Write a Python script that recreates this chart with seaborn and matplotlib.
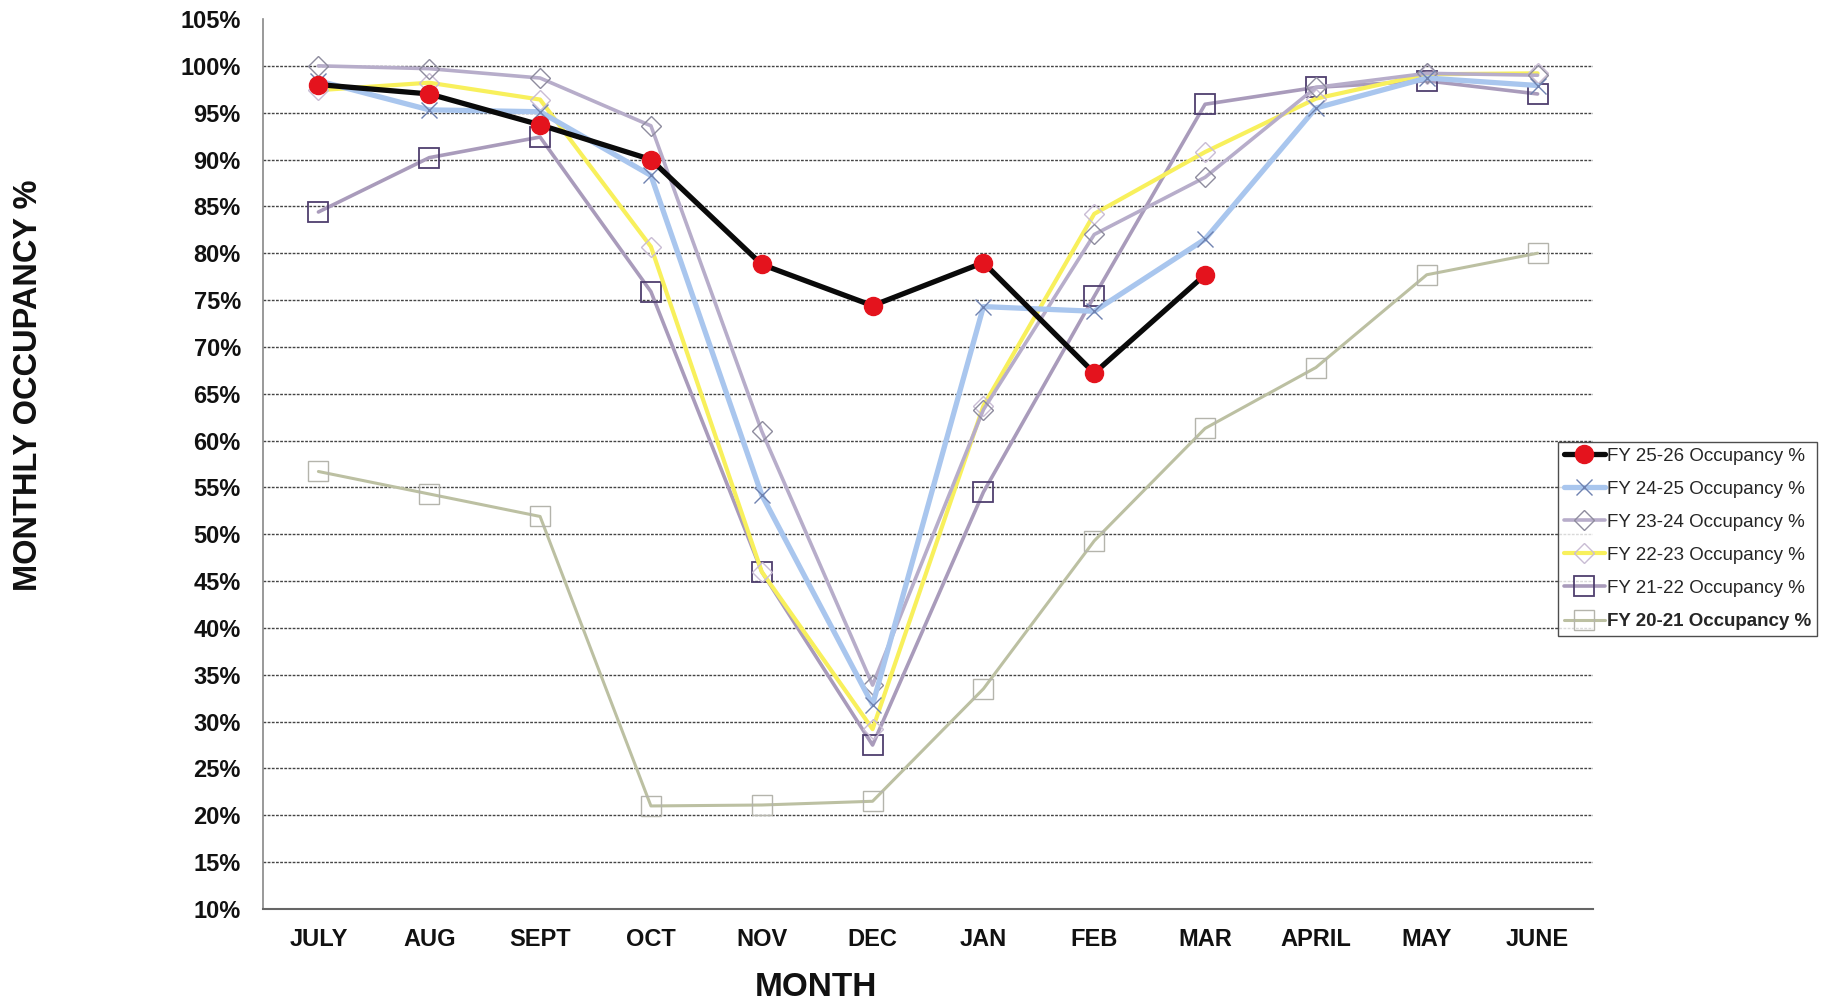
import numpy as np
import pandas as pd
import seaborn as sns
import matplotlib.pyplot as plt
from matplotlib.ticker import FuncFormatter, FixedLocator

# Month categories (fiscal year order)
months = ['JULY', 'AUG', 'SEPT', 'OCT', 'NOV', 'DEC', 'JAN', 'FEB', 'MAR', 'APRIL', 'MAY', 'JUNE']

# Monthly occupancy %
fy_25_26 = [98.0, 97.0, 93.7, 90.0, 78.8, 74.4, 79.0, 67.2, 77.7, np.nan, np.nan, np.nan]
fy_24_25 = [98.4, 95.3, 95.1, 88.3, 54.2, 31.8, 74.3, 73.8, 81.5, 95.5, 98.7, 97.9]
fy_23_24 = [100.0, 99.7, 98.7, 93.6, 61.0, 33.9, 63.3, 82.0, 88.1, 97.7, 99.2, 99.0]
fy_22_23 = [97.4, 98.2, 96.4, 80.7, 46.0, 29.2, 63.7, 84.2, 90.8, 96.5, 99.1, 99.2]
fy_21_22 = [84.4, 90.2, 92.4, 75.9, 46.0, 27.5, 54.5, 75.4, 95.9, 97.7, 98.4, 97.0]
fy_20_21 = [56.7, 54.3, 51.9, 21.0, 21.1, 21.5, 33.5, 49.3, 61.3, 67.8, 77.7, 80.0]

series_names = ['FY 20-21 Occupancy %', 'FY 21-22 Occupancy %', 'FY 22-23 Occupancy %',
                'FY 23-24 Occupancy %', 'FY 24-25 Occupancy %', 'FY 25-26 Occupancy %']
series_values = [fy_20_21, fy_21_22, fy_22_23, fy_23_24, fy_24_25, fy_25_26]

# style per series (drawn oldest first so FY 25-26 is on top)
styles = [
    dict(color='#bcc0a2', lw=2.2, marker='s', ms=14, mec='#b4b4ac', mfc='none', mew=1.0),
    dict(color='#a99bbb', lw=2.6, marker='s', ms=14, mec='#4f3f6e', mfc='none', mew=1.3),
    dict(color='#f8f05c', lw=3.0, marker='D', ms=10, mec='#c9bcd4', mfc='none', mew=1.0),
    dict(color='#b7adca', lw=2.6, marker='D', ms=10, mec='#8e8c9e', mfc='none', mew=1.0),
    dict(color='#a9c6ee', lw=3.8, marker='x', ms=11, mec='#6f82b0', mfc='none', mew=1.0),
    dict(color='#0a0a0a', lw=3.8, marker='o', ms=13, mec='#e4131d', mfc='#e4131d', mew=1.0),
]

rows = []
for name, vals in zip(series_names, series_values):
    for i, v in enumerate(vals):
        rows.append({'series': name, 'idx': i, 'month': months[i], 'occupancy': v})
df = pd.DataFrame(rows)

sns.set_style('white')
plt.rcParams['font.family'] = ['Liberation Sans', 'DejaVu Sans']

fig = plt.figure(figsize=(18.23, 10.07), dpi=100)
ax = fig.add_axes([263 / 1823, 1 - 909 / 1007, (1593 - 263) / 1823, (909 - 19) / 1007])

for name, st in zip(series_names, styles):
    sub = df[df['series'] == name].dropna()
    sns.lineplot(data=sub, x='idx', y='occupancy', ax=ax, label=name, sort=False,
                 estimator=None, color=st['color'], lw=st['lw'], marker=st['marker'],
                 markersize=st['ms'], markeredgecolor=st['mec'], markerfacecolor=st['mfc'],
                 markeredgewidth=st['mew'])

ax.set_xlim(-0.5, len(months) - 0.5)
ax.set_ylim(10, 105)
ax.set_yticks(np.arange(10, 106, 5))
ax.yaxis.set_major_formatter(FuncFormatter(lambda v, p: f'{v:.0f}%'))
ax.set_xticks(np.arange(len(months)))
ax.set_xticklabels(months)
ax.xaxis.set_minor_locator(FixedLocator(np.arange(-0.5, len(months), 1.0)))
ax.tick_params(axis='x', which='major', length=0, pad=14)
ax.tick_params(axis='x', which='minor', length=8, width=1, color='#333333', direction='out')
ax.tick_params(axis='y', length=8, width=1, color='#444444', direction='out', pad=8)
for lab in ax.get_yticklabels():
    lab.set_fontsize(17)
    lab.set_fontweight('bold')
    lab.set_color('#111111')
for lab in ax.get_xticklabels():
    lab.set_fontsize(17)
    lab.set_fontweight('bold')
    lab.set_color('#111111')

ax.grid(axis='y', color='#444444', lw=1.0, linestyle=(0, (2, 1)))
ax.grid(axis='x', visible=False)
ax.set_axisbelow(True)
# no gridline at the 105% top tick
ax.yaxis.get_gridlines()[-1].set_visible(False)
for side in ['top', 'right']:
    ax.spines[side].set_visible(False)
ax.spines['left'].set_color('#888888')
ax.spines['left'].set_linewidth(1.2)
ax.spines['bottom'].set_color('#666666')
ax.spines['bottom'].set_linewidth(1.5)
ax.set_xlabel('')
ax.set_ylabel('')

fig.text(29 / 1823, 1 - 385 / 1007, 'MONTHLY OCCUPANCY %', rotation=90, ha='center', va='center',
         fontsize=23.5, fontweight='bold', color='#111111')
fig.text(816 / 1823, 1 - 988 / 1007, 'MONTH', ha='center', va='center',
         fontsize=24, fontweight='bold', color='#111111')

handles, labels = ax.get_legend_handles_labels()
leg = ax.legend(handles[::-1], labels[::-1], loc='upper left',
                bbox_to_anchor=(1558 / 1823, 1 - 442 / 1007), bbox_transform=fig.transFigure,
                fontsize=13.5, frameon=True, fancybox=False, edgecolor='#222222',
                handlelength=2.2, handletextpad=0.1, labelspacing=0.85, borderpad=0.3,
                borderaxespad=0)
leg.get_frame().set_linewidth(1.0)
leg.get_texts()[-1].set_fontweight('bold')

fig.savefig('out.png', dpi=100)
